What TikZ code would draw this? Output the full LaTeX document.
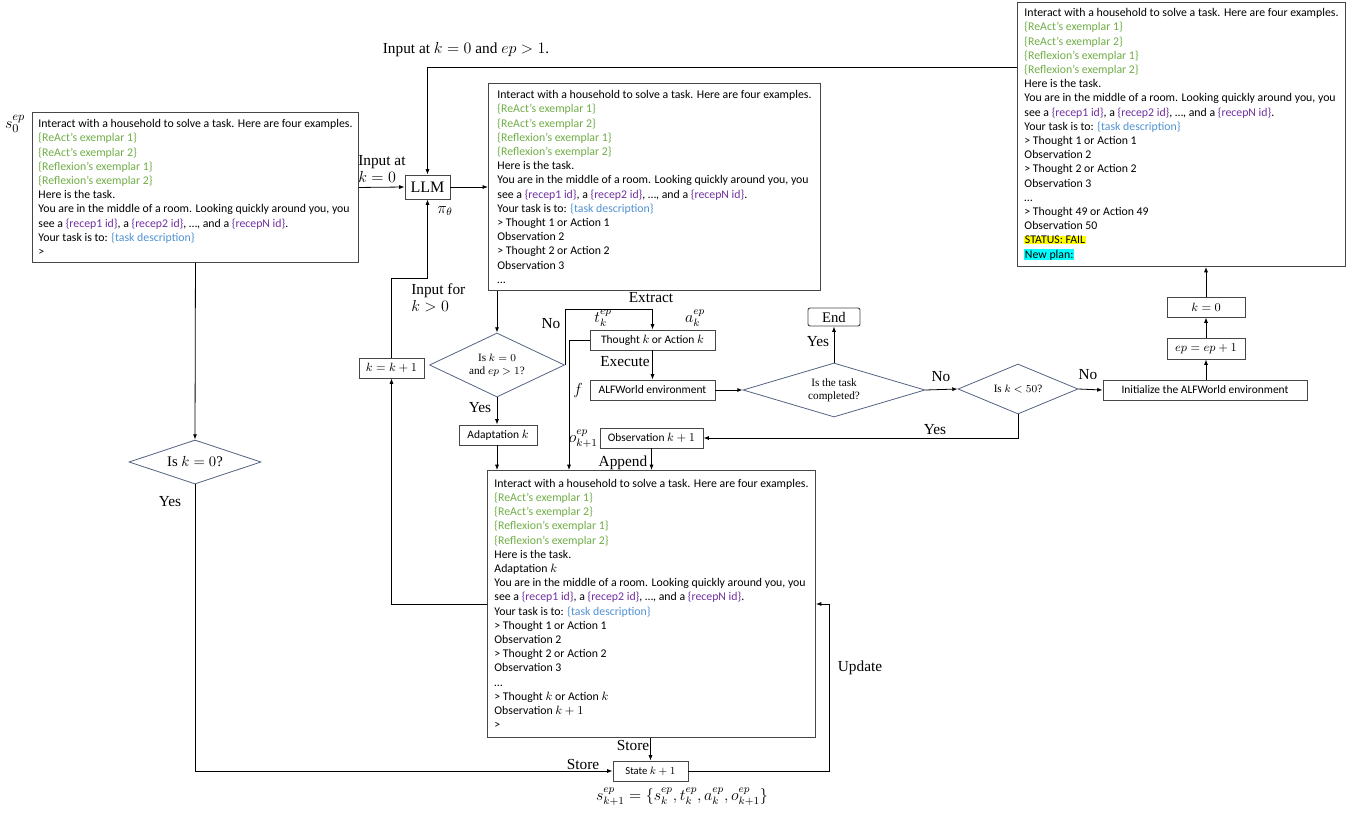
\documentclass[tikz,border=0pt]{standalone}
\usepackage{fontspec}
\setmainfont{Liberation Serif}
\newfontfamily\calfont{Carlito}
\usetikzlibrary{arrows.meta,shapes.geometric}
\definecolor{exg}{RGB}{112,173,71}
\definecolor{rcp}{RGB}{112,48,160}
\definecolor{tsk}{RGB}{80,145,210}
\definecolor{boxgray}{RGB}{70,70,70}
\definecolor{dmgray}{RGB}{84,98,130}
\definecolor{hlyel}{RGB}{255,255,0}
\definecolor{hlcyan}{RGB}{0,255,255}
\newcommand\exgr[1]{\textcolor{exg}{\{#1\}}}
\newcommand\recp[1]{\textcolor{rcp}{\{#1\}}}
\newcommand\tskd[1]{\textcolor{tsk}{\{#1\}}}
\newcommand\boxfont{\calfont\fontsize{8.85}{10.65}\selectfont}
\begin{document}
\begin{tikzpicture}[x=0.75pt,y=-0.75pt,
  bigbox/.style={draw=boxgray,line width=0.7pt,anchor=north west,align=left,font=\boxfont,inner sep=3pt},
  smallbox/.style={draw=boxgray,line width=0.7pt,inner sep=0pt,font=\calfont\fontsize{8.6}{10}\selectfont,minimum height=15pt},
  mbox/.style={draw=boxgray,line width=0.7pt,inner sep=0pt,font=\fontsize{9}{10}\selectfont,minimum height=15pt},
  dec/.style={diamond,draw=dmgray,line width=0.6pt,inner sep=0pt,align=center,font=\fontsize{8.4}{9.8}\selectfont},
  lbl/.style={inner sep=0pt,font=\fontsize{11.5}{13}\selectfont},
  arr/.style={-{Latex[length=4pt,width=3pt]},line width=0.6pt},
  ln/.style={line width=0.6pt}]
\useasboundingbox (0,0) rectangle (1364,814);

% ---- big boxes ----
\node[bigbox,minimum width=244.5pt,minimum height=112.5pt] (boxA) at (32,112) {%
Interact with a household to solve a task. Here are four examples.\\
\exgr{ReAct’s exemplar 1}\\
\exgr{ReAct’s exemplar 2}\\
\exgr{Reflexion’s exemplar 1}\\
\exgr{Reflexion’s exemplar 2}\\
Here is the task.\\
You are in the middle of a room. Looking quickly around you, you\\
see a \recp{recep1 id}, a \recp{recep2 id}, …, and a \recp{recepN id}.\\
Your task is to: \tskd{task description}\\
>};

\node[bigbox,minimum width=249pt,minimum height=155.25pt] (boxB) at (488,83) {%
Interact with a household to solve a task. Here are four examples.\\
\exgr{ReAct’s exemplar 1}\\
\exgr{ReAct’s exemplar 2}\\
\exgr{Reflexion’s exemplar 1}\\
\exgr{Reflexion’s exemplar 2}\\
Here is the task.\\
You are in the middle of a room. Looking quickly around you, you\\
see a \recp{recep1 id}, a \recp{recep2 id}, …, and a \recp{recepN id}.\\
Your task is to: \tskd{task description}\\
> Thought 1 or Action 1\\
Observation 2\\
> Thought 2 or Action 2\\
Observation 3\\
…};

\node[bigbox,minimum width=246pt,minimum height=198pt] (boxC) at (1017,2) {%
Interact with a household to solve a task. Here are four examples.\\
\exgr{ReAct’s exemplar 1}\\
\exgr{ReAct’s exemplar 2}\\
\exgr{Reflexion’s exemplar 1}\\
\exgr{Reflexion’s exemplar 2}\\
Here is the task.\\
You are in the middle of a room. Looking quickly around you, you\\
see a \recp{recep1 id}, a \recp{recep2 id}, …, and a \recp{recepN id}.\\
Your task is to: \tskd{task description}\\
> Thought 1 or Action 1\\
Observation 2\\
> Thought 2 or Action 2\\
Observation 3\\
…\\
> Thought 49 or Action 49\\
Observation 50\\
{\fboxsep=0.4pt\colorbox{hlyel}{STATUS: FAIL}}\\
{\fboxsep=0.4pt\colorbox{hlcyan}{New plan:}}};

\node[bigbox,minimum width=246pt,minimum height=200.25pt] (boxE) at (487,470) {%
Interact with a household to solve a task. Here are four examples.\\
\exgr{ReAct’s exemplar 1}\\
\exgr{ReAct’s exemplar 2}\\
\exgr{Reflexion’s exemplar 1}\\
\exgr{Reflexion’s exemplar 2}\\
Here is the task.\\
Adaptation $k$\\
You are in the middle of a room. Looking quickly around you, you\\
see a \recp{recep1 id}, a \recp{recep2 id}, …, and a \recp{recepN id}.\\
Your task is to: \tskd{task description}\\
> Thought 1 or Action 1\\
Observation 2\\
> Thought 2 or Action 2\\
Observation 3\\
…\\
> Thought $k$ or Action $k$\\
Observation $k+1$\\
>};

% ---- small boxes ----
\node[mbox,minimum width=33.75pt,minimum height=18pt,font=\fontsize{12}{13}\selectfont] (LLM) at (427.5,187) {LLM};
\node[smallbox,minimum width=93.75pt] (thought) at (652.5,340) {Thought $k$ or Action $k$};
\node[smallbox,minimum width=93.75pt] (alf) at (652.5,390) {ALFWorld environment};
\node[smallbox,minimum width=58.5pt] (adapt) at (498,435) {Adaptation $k$};
\node[smallbox,minimum width=77.25pt] (obs) at (651.5,438) {Observation $k+1$};
\node[mbox,minimum width=48.75pt] (kk) at (391.5,368) {$k=k+1$};
\node[smallbox,minimum width=153pt] (init) at (1205,390) {Initialize the ALFWorld environment};
\node[mbox,minimum width=58.5pt,minimum height=15.75pt] (ep) at (1206,348.5) {$ep=ep+1$};
\node[mbox,minimum width=58.5pt] (kzero) at (1206,307) {$k=0$};
\node[smallbox,minimum width=56.25pt,font=\calfont\fontsize{8}{9}\selectfont] (state) at (650.5,771) {State $k+1$};
\node[mbox,minimum width=39pt,minimum height=13.5pt,rounded corners=1.5pt,font=\fontsize{11}{12}\selectfont] (endb) at (834,317) {End};

% ---- decisions ----
\node[dec,aspect=2.1,minimum width=101.25pt,minimum height=48pt] (D1) at (497,365) {Is $k=0$\\ and $ep>1$?};
\node[dec,aspect=3.4,minimum width=136.5pt,minimum height=40.5pt] (D2) at (834,390) {Is the task\\ completed?};
\node[dec,aspect=2.4,minimum width=90pt,minimum height=37.5pt] (D3) at (1018,389) {Is $k<50$?};
\node[dec,aspect=3,minimum width=99pt,minimum height=33pt,font=\fontsize{11}{12}\selectfont] (D4) at (195,462) {Is $k=0$?};

% ---- connectors ----
\coordinate (topturn) at (427.5,67);
\coordinate (kkturn) at (391.5,278);
\coordinate (tjoin) at (569,470);
\coordinate (updc) at (829,771);
\draw[arr] (boxA.east) -- (LLM.west);
\draw[arr] (LLM.east) -- (LLM.east -| boxB.west);
\draw[arr] (boxC.west |- topturn) -- (topturn) -- (LLM.north);
\draw[arr] (boxB.south -| D1.north) -- (D1.north);
\draw[arr] (D1.east) -- ++(0,-56) -| (thought.north);
\draw[arr] (thought.west) -| (tjoin);
\draw[arr] (thought.south) -- (alf.north);
\draw[arr] (alf.east) -- (D2.west);
\draw[arr] (D2.north) -- (endb.south);
\draw[arr] (D2.east) -- (D3.west);
\draw[arr] (D3.east) -- (init.west);
\draw[arr] (D3.south) |- (obs.east);
\draw[arr] (init.north -| ep.south) -- (ep.south);
\draw[arr] (ep.north) -- (kzero.south);
\draw[arr] (kzero.north) -- (kzero.north |- boxC.south);
\draw[arr] (D1.south) -- (adapt.north -| D1.south);
\draw[arr] (adapt.south -| D1.south) -- (D1.south |- boxE.north);
\draw[arr] (obs.south) -- (obs.south |- boxE.north);
\draw[arr] (boxE.west) -| (kk.south);
\draw[arr] (kk.north) -- (kkturn) -| (LLM.south);
\draw[arr] (boxA.south) -- (D4.north);
\draw[arr] (D4.south) |- (state.west);
\draw[arr] (boxE.south -| state.north) -- (state.north);
\draw[arr] (state.east) -- (updc) |- (boxE.east);

% ---- labels ----
\node[lbl,font=\fontsize{13}{14}\selectfont] (s0) at (15,124) {$s_0^{ep}$};
\node[lbl,align=left,anchor=west] (inat) at (358,169) {Input at\\ $k=0$};
\node[lbl] (intop) at (466,50) {Input at $k=0$ and $ep>1$.};
\node[lbl] (pith) at (445,211) {$\pi_\theta$};
\node[lbl,align=left,anchor=west] (infor) at (411,298) {Input for\\ $k>0$};
\node[lbl] (no1) at (551,324) {No};
\node[lbl] (extr) at (651,298) {Extract};
\node[lbl] (tk) at (603,318) {$t_k^{ep}$};
\node[lbl] (ak) at (695,318) {$a_k^{ep}$};
\node[lbl] (exec) at (625,362) {Execute};
\node[lbl] (fl) at (578,390) {$f$};
\node[lbl] (yes1) at (480,408) {Yes};
\node[lbl,anchor=east] (ok1) at (598,439) {$o_{k+1}^{ep}$};
\node[lbl] (app) at (623,463) {Append};
\node[lbl] (yes2) at (818,342) {Yes};
\node[lbl] (no2) at (941,377) {No};
\node[lbl] (no3) at (1088,375) {No};
\node[lbl] (yes3) at (935,430) {Yes};
\node[lbl] (yes4) at (170,502) {Yes};
\node[lbl] (st1) at (633,745) {Store};
\node[lbl] (st2) at (583,764) {Store};
\node[lbl] (upd) at (860,668) {Update};
\node[lbl,font=\fontsize{12}{13}\selectfont] (form) at (682,797) {$s_{k+1}^{ep}=\{s_k^{ep},t_k^{ep},a_k^{ep},o_{k+1}^{ep}\}$};
\end{tikzpicture}
\end{document}
